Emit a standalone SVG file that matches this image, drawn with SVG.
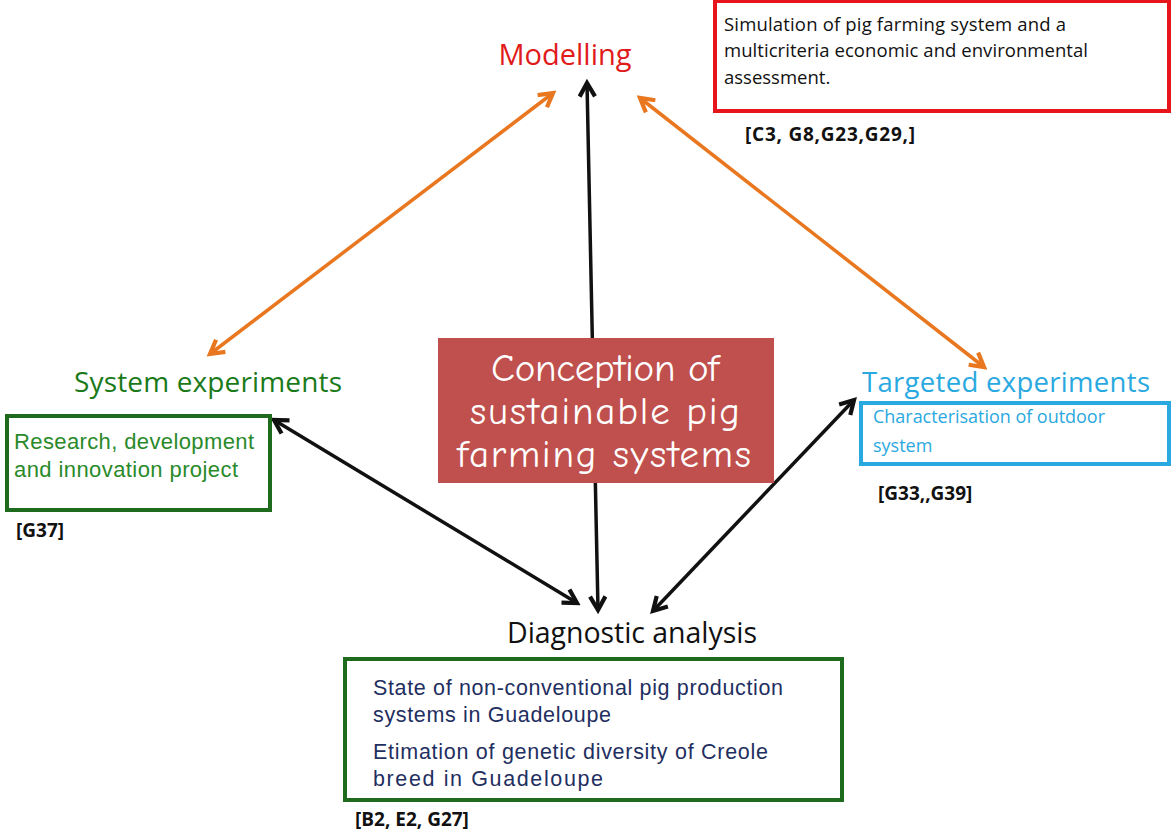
<svg xmlns="http://www.w3.org/2000/svg" width="1172" height="832" viewBox="0 0 1172 832">
<defs>
<style>
.t{font-family:"Open Sans","Liberation Sans",sans-serif}
.a{font-family:"Liberation Sans",Arial,sans-serif}
.ref{font-family:"Open Sans","Liberation Sans",sans-serif;font-weight:bold;font-size:19px;fill:#111}
.o{stroke:#e8771f;stroke-width:3.5;fill:none}
.k{stroke:#111;stroke-width:3.5;fill:none}
</style>
<marker id="mo" viewBox="0 0 10 10" refX="8" refY="5" markerWidth="5.5" markerHeight="5.5" orient="auto-start-reverse"><path d="M1,1 L8,5 L1,9" fill="none" stroke="#e8771f" stroke-width="2.2"/></marker>
<marker id="mk" viewBox="0 0 10 10" refX="8" refY="5" markerWidth="5.5" markerHeight="5.5" orient="auto-start-reverse"><path d="M1,1 L8,5 L1,9" fill="none" stroke="#111" stroke-width="2.2"/></marker>
</defs>
<rect width="1172" height="832" fill="#fff"/>
<g id="connectors">
<line class="o" x1="553" y1="93" x2="210" y2="354" marker-start="url(#mo)" marker-end="url(#mo)"/>
<line class="o" x1="640" y1="98" x2="984" y2="367" marker-start="url(#mo)" marker-end="url(#mo)"/>
<line class="k" x1="587" y1="83" x2="598" y2="610" marker-start="url(#mk)" marker-end="url(#mk)"/>
<line class="k" x1="274" y1="420" x2="577" y2="603" marker-start="url(#mk)" marker-end="url(#mk)"/>
<line class="k" x1="854" y1="400" x2="653" y2="611" marker-start="url(#mk)" marker-end="url(#mk)"/>
</g>
<g id="modelling">
<text class="t" x="565" y="65" font-size="29" fill="#e01b1b" text-anchor="middle">Modelling</text>
<rect x="715" y="1" width="454" height="110" fill="#fff" stroke="#e8141b" stroke-width="4"/>
<text class="t" font-size="18.5" fill="#111"><tspan x="724" y="31" textLength="342">Simulation of pig farming system and a</tspan><tspan x="724" y="57" textLength="364">multicriteria economic and environmental</tspan><tspan x="724" y="84">assessment.</tspan></text>
<text class="ref" x="745" y="141" textLength="170">[C3, G8,G23,G29,]</text>
</g>
<g id="center">
<rect x="438" y="338" width="336" height="145" fill="#c0504d"/>
<text font-family="'Comic Sans MS','Comic Neue','DejaVu Sans',sans-serif" font-size="39" fill="#fff" text-anchor="middle"><tspan x="605" y="381" textLength="228">Conception of</tspan><tspan x="605" y="424" textLength="270">sustainable pig</tspan><tspan x="604" y="467" textLength="294">farming systems</tspan></text>
</g>
<g id="system">
<text class="t" x="208" y="392" font-size="28" fill="#1a7a1a" text-anchor="middle" textLength="268">System experiments</text>
<rect x="7" y="416" width="263" height="94" fill="#fff" stroke="#1e6b1e" stroke-width="4"/>
<text class="a" font-size="22" fill="#2a8a2a"><tspan x="14" y="449" textLength="240">Research, development</tspan><tspan x="14" y="477" textLength="224">and innovation project</tspan></text>
<text class="ref" x="16" y="537">[G37]</text>
</g>
<g id="targeted">
<text class="t" x="862" y="392" font-size="27.5" fill="#2aa9e0" textLength="288">Targeted experiments</text>
<rect x="861" y="403" width="308" height="61" fill="#fff" stroke="#2aa9e0" stroke-width="4"/>
<text class="t" font-size="18" fill="#2aa9e0"><tspan x="873" y="423" textLength="232">Characterisation of outdoor</tspan><tspan x="873" y="452">system</tspan></text>
<text class="ref" x="878" y="500">[G33,,G39]</text>
</g>
<g id="diagnostic">
<text class="t" x="632" y="643" font-size="28.5" fill="#111" text-anchor="middle" textLength="250">Diagnostic analysis</text>
<rect x="345" y="659" width="497" height="141" fill="#fff" stroke="#1e6b1e" stroke-width="4"/>
<text class="a" font-size="21.5" fill="#1f2f5f"><tspan x="373" y="695" textLength="410">State of non-conventional pig production</tspan><tspan x="373" y="722" textLength="238">systems in Guadeloupe</tspan><tspan x="373" y="759" textLength="395">Etimation of genetic diversity of Creole</tspan><tspan x="373" y="786" textLength="230">breed in Guadeloupe</tspan></text>
<text class="ref" x="355" y="826">[B2, E2, G27]</text>
</g>
</svg>
